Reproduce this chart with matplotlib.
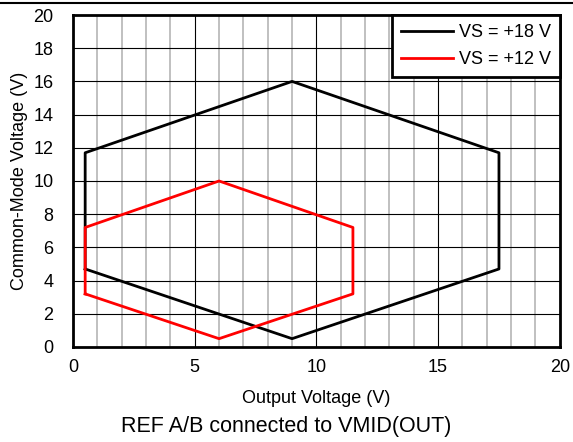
import matplotlib

matplotlib.use("Agg")

import matplotlib.pyplot as plt
from matplotlib.lines import Line2D
import numpy as np

plt.rcParams["font.family"] = ["Liberation Sans", "DejaVu Sans"]

# VS = +18 V region (output voltage, common-mode voltage)
vs18_x = [0.5, 0.5, 9.0, 17.5, 17.5, 9.0, 0.5]
vs18_y = [4.7, 11.7, 16.0, 11.7, 4.7, 0.5, 4.7]

# VS = +12 V region
vs12_x = [0.5, 0.5, 6.0, 11.5, 11.5, 6.0, 0.5]
vs12_y = [3.2, 7.2, 10.0, 7.2, 3.2, 0.5, 3.2]

series_labels = ["VS = +18 V", "VS = +12 V"]

fig = plt.figure(figsize=(5.73, 4.42), dpi=100)
ax = fig.add_axes([0.1274, 0.215, 0.8496, 0.751])

# grid: grey every 1 V on x, black every 5 V on x, black every 2 V on y
for xv in np.arange(1, 20):
	if xv % 5:
		ax.axvline(xv, color="#c0c0c0", linewidth=1.4, zorder=1)
	else:
		ax.axvline(xv, color="black", linewidth=0.8, zorder=1)
for yv in np.arange(2, 20, 2):
	ax.axhline(yv, color="black", linewidth=0.8, zorder=1)

ax.plot(vs18_x, vs18_y, color="black", linewidth=2.0, label=series_labels[0], zorder=3)
ax.plot(vs12_x, vs12_y, color="#ff0000", linewidth=2.0, label=series_labels[1], zorder=3)

ax.set_xlim(0, 20)
ax.set_ylim(0, 20)
ax.set_xticks([0, 5, 10, 15, 20])
ax.set_yticks(np.arange(0, 21, 2))
ax.tick_params(axis="x", length=0, labelsize=13, pad=9)
ax.tick_params(axis="y", length=0, labelsize=13, pad=14)
for sp in ax.spines.values():
	sp.set_linewidth(2.0)
	sp.set_zorder(4)

ax.set_xlabel("Output Voltage (V)", fontsize=13, labelpad=10)
ax.set_ylabel("Common-Mode Voltage (V)", fontsize=13, labelpad=4)

leg = ax.legend(
	loc="upper right",
	fontsize=13,
	frameon=True,
	fancybox=False,
	framealpha=1,
	edgecolor="black",
	borderaxespad=0,
	handlelength=2.9,
	handletextpad=0.3,
	borderpad=0.5,
	labelspacing=0.55,
)
leg.get_frame().set_linewidth(2.0)
for h in leg.get_lines():
	h.set_linewidth(2.0)

fig.text(0.5, 0.035, "REF A/B connected to VMID(OUT)", ha="center", va="center", fontsize=15.5)
fig.add_artist(Line2D([0, 1], [1 - 2.5 / 442, 1 - 2.5 / 442], color="black", linewidth=1.5))

fig.savefig("out.png", dpi=100)
